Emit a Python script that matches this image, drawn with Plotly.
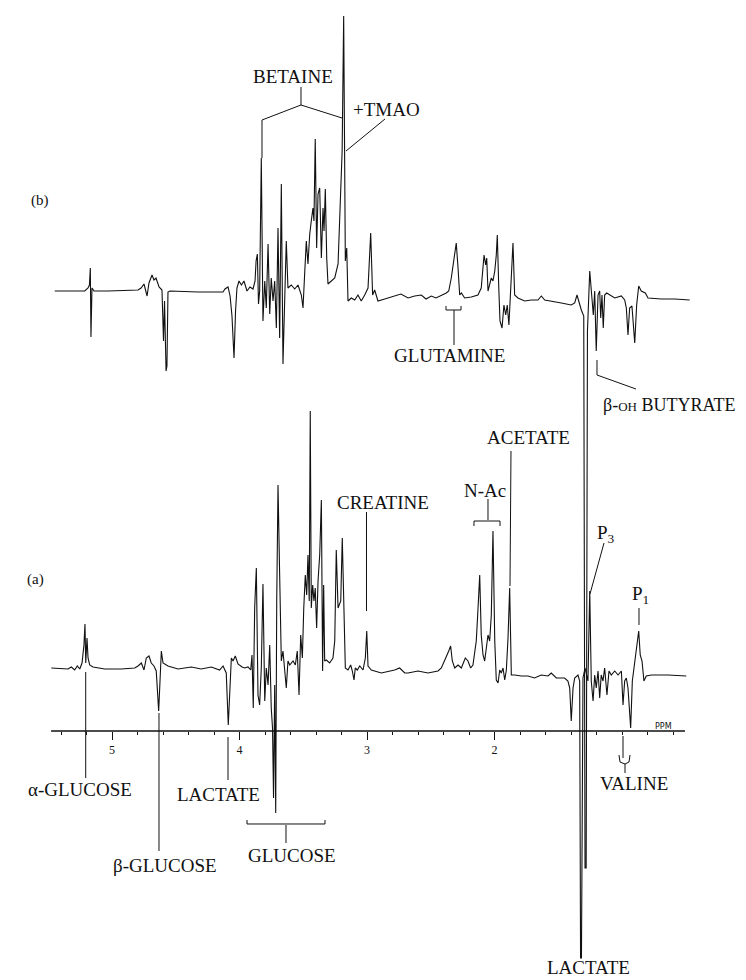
import plotly.graph_objects as go

# ---------------- data (chemical shift in ppm, intensity in arbitrary units) -------------
ppm_b = [5.449, 5.214, 5.188, 5.177, 5.170, 5.165, 5.157, 5.141, 5.031, 4.796,
         4.772, 4.749, 4.725, 4.710, 4.686, 4.671, 4.655, 4.631, 4.608, 4.596,
         4.588, 4.576, 4.569, 4.561, 4.545, 4.326, 4.129, 4.114, 4.090, 4.074,
         4.059, 4.043, 4.031, 4.020, 4.004, 3.985, 3.965, 3.941, 3.918, 3.894,
         3.878, 3.870, 3.860, 3.851, 3.842, 3.829, 3.816, 3.802, 3.790, 3.776,
         3.763, 3.751, 3.737, 3.724, 3.711, 3.698, 3.685, 3.672, 3.659, 3.646,
         3.633, 3.620, 3.594, 3.567, 3.541, 3.515, 3.502, 3.489, 3.476, 3.463,
         3.449, 3.437, 3.424, 3.416, 3.406, 3.395, 3.384, 3.371, 3.358, 3.345,
         3.337, 3.327, 3.316, 3.306, 3.280, 3.253, 3.227, 3.206, 3.195, 3.183,
         3.170, 3.159, 3.149, 3.123, 3.096, 3.071, 3.045, 3.018, 2.992, 2.971,
         2.956, 2.940, 2.914, 2.861, 2.788, 2.734, 2.678, 2.626, 2.574, 2.537,
         2.496, 2.459, 2.378, 2.359, 2.339, 2.318, 2.300, 2.286, 2.273, 2.260,
         2.234, 2.182, 2.130, 2.104, 2.082, 2.069, 2.061, 2.051, 2.038, 2.025,
         2.012, 1.998, 1.986, 1.978, 1.967, 1.957, 1.941, 1.926, 1.912, 1.900,
         1.887, 1.868, 1.855, 1.842, 1.816, 1.763, 1.711, 1.659, 1.633, 1.606,
         1.555, 1.476, 1.398, 1.371, 1.353, 1.332, 1.319, 1.300, 1.290, 1.281,
         1.271, 1.253, 1.241, 1.225, 1.214, 1.202, 1.188, 1.175, 1.167, 1.157,
         1.147, 1.136, 1.120, 1.096, 1.057, 1.005, 0.979, 0.966, 0.953, 0.940,
         0.922, 0.900, 0.885, 0.869, 0.849, 0.817, 0.796, 0.692, 0.587, 0.469]
int_b = [0, 0, 3, 6, 23, -46, 3, 0, 0, 1,
         3, 7, -5, 8, 16, 11, 13, 4, 1, -50,
         -10, -80, -75, -1, 0, -1, -1, 2, 4, -5,
         -25, -67, -20, 3, 10, 6, 10, 0, 4, 2,
         10, 30, 37, -13, 0, 133, -30, 10, -17, 47,
         -23, 13, -10, 10, -37, 63, -47, 107, -73, 0,
         50, 3, 6, 2, 6, -4, -17, 17, 50, 27,
         57, 70, 83, 70, 152, 43, 97, 103, 33, 83,
         60, 102, 33, 7, 10, 13, 27, 100, 140, 275,
         30, 43, -10, -7, -9, -4, -10, -4, 3, 58,
         -4, 1, -10, -8, -5, -3, -7, -5, -4, -8,
         -5, -7, -2, 0, 13, 30, 48, 23, -4, -2,
         -7, -6, -4, 3, 36, 26, 33, 0, 6, 13,
         10, 20, 36, 56, 5, -30, -37, -14, -24, -14,
         -34, 13, 48, -4, -7, -10, -9, -9, -5, -9,
         -10, -12, -14, -12, -4, -14, -19, -25, -577, -577,
         -40, 20, 3, -24, 0, -60, -4, 0, -27, -4,
         -37, -4, -2, -4, -7, -5, -9, -17, -44, -17,
         -15, -52, -14, 5, 0, -2, -7, -8, -8, -9]

ppm_a = [5.476, 5.345, 5.319, 5.293, 5.272, 5.253, 5.235, 5.220, 5.212, 5.206,
         5.196, 5.188, 5.175, 5.149, 5.057, 4.927, 4.822, 4.796, 4.770, 4.749,
         4.731, 4.710, 4.692, 4.671, 4.653, 4.634, 4.613, 4.600, 4.561, 4.482,
         4.378, 4.300, 4.221, 4.156, 4.129, 4.104, 4.088, 4.077, 4.064, 4.051,
         4.033, 4.012, 3.980, 3.959, 3.933, 3.912, 3.902, 3.892, 3.881, 3.868,
         3.855, 3.842, 3.829, 3.816, 3.802, 3.790, 3.776, 3.763, 3.751, 3.741,
         3.733, 3.724, 3.716, 3.708, 3.698, 3.685, 3.672, 3.659, 3.646, 3.633,
         3.620, 3.606, 3.580, 3.562, 3.547, 3.533, 3.520, 3.507, 3.496, 3.484,
         3.473, 3.463, 3.453, 3.445, 3.437, 3.426, 3.416, 3.406, 3.395, 3.384,
         3.371, 3.358, 3.348, 3.340, 3.332, 3.319, 3.293, 3.267, 3.253, 3.241,
         3.227, 3.206, 3.194, 3.183, 3.170, 3.149, 3.128, 3.115, 3.102, 3.092,
         3.076, 3.057, 3.031, 3.013, 3.002, 2.992, 2.966, 2.888, 2.783, 2.744,
         2.704, 2.678, 2.600, 2.522, 2.443, 2.417, 2.391, 2.359, 2.344, 2.331,
         2.312, 2.286, 2.260, 2.229, 2.208, 2.187, 2.169, 2.156, 2.143, 2.129,
         2.116, 2.104, 2.090, 2.077, 2.064, 2.051, 2.038, 2.025, 2.012, 1.998,
         1.986, 1.972, 1.959, 1.947, 1.933, 1.920, 1.907, 1.894, 1.881, 1.868,
         1.842, 1.790, 1.737, 1.686, 1.633, 1.580, 1.555, 1.515, 1.450, 1.424,
         1.410, 1.398, 1.384, 1.371, 1.345, 1.332, 1.325, 1.318, 1.306, 1.290,
         1.267, 1.253, 1.241, 1.227, 1.214, 1.202, 1.188, 1.175, 1.163, 1.149,
         1.136, 1.118, 1.102, 1.084, 1.057, 1.031, 1.005, 0.992, 0.979, 0.966,
         0.953, 0.932, 0.919, 0.900, 0.885, 0.869, 0.857, 0.843, 0.828, 0.810,
         0.770, 0.639, 0.496]
int_a = [0, -1, 1, -2, 2, -1, 5, 23, 44, 5,
         30, 10, 3, 1, -1, -1, 0, 2, 5, -2,
         10, 12, 5, 2, -3, -43, 17, 5, 2, -1,
         1, -1, 1, -2, 2, -5, -57, -20, 10, 7,
         12, 4, 1, 0, 1, -2, 13, -40, 60, 100,
         -27, -37, 0, 84, -33, 0, -17, 23, -40, -60,
         -130, -17, -145, 67, 183, 93, 7, 17, 0, -20,
         7, 3, 7, 3, 17, -27, 33, 10, 60, 93,
         73, 113, 67, 257, 60, 83, 67, 80, 40, 87,
         113, 168, -3, 83, 7, 8, 5, 10, 27, 118,
         60, 67, 130, 67, 0, -2, 3, -3, -12, 0,
         -2, 2, -2, 10, 37, 2, -2, -5, -2, 0,
         -5, -5, -3, -5, -3, 0, 7, 17, 22, 7,
         0, 3, 0, 10, 7, 0, 3, 13, 27, 60,
         93, 33, 13, 7, 23, 33, 27, 53, 137, 27,
         -12, -15, -2, -5, 0, -12, -2, 30, 80, -7,
         -7, -8, -8, -10, -7, -8, -5, -10, -10, -13,
         -20, -53, -20, -10, -7, -13, -290, -290, -10, 0,
         -13, 77, -13, -33, -7, -20, -3, -30, -7, -13,
         0, -27, -3, -7, -3, -7, -3, -37, -13, -10,
         -20, -60, -13, 7, 17, 37, 13, 7, -13, -8,
         -7, -7, -8]

major_ticks = [5, 4, 3, 2]
major_labels = ["5", "4", "3", "2"]
minor_ticks = [5.4, 5.2, 4.8, 4.6, 4.4, 4.2, 3.8, 3.6, 3.4, 3.2, 2.8, 2.6, 2.4, 2.2,
               1.8, 1.6, 1.4, 1.2, 1.0, 0.8, 0.6]
axis_ppm = [5.478, 0.506]

# ---------------- layout helpers ----------------
W, H = 746, 980
X_RANGE = [5.8157, -0.0353]
Y_RANGE = [-257, 723]
OFFSET_A = 63     # baseline of spectrum (a) above the ppm axis
OFFSET_B = 440    # baseline of spectrum (b) above the ppm axis


def fx(p):
    return p / W


def fy(p):
    return 1 - p / H


LINE = dict(color="#111111", width=1.1)

fig = go.Figure()
fig.add_trace(go.Scatter(x=ppm_b, y=[v + OFFSET_B for v in int_b], mode="lines",
                         line=LINE, hoverinfo="skip", cliponaxis=False))
fig.add_trace(go.Scatter(x=ppm_a, y=[v + OFFSET_A for v in int_a], mode="lines",
                         line=LINE, hoverinfo="skip", cliponaxis=False))

shapes = []


def seg(points, width=1.0):
    d = "M" + " L".join(f"{fx(x):.5f},{fy(y):.5f}" for x, y in points)
    shapes.append(dict(type="path", path=d, xref="paper", yref="paper",
                       line=dict(color="#111111", width=width)))


# ppm axis line
shapes.append(dict(type="line", xref="x", yref="y", x0=axis_ppm[0], x1=axis_ppm[1], y0=0, y1=0,
                   line=dict(color="#111111", width=1.4)))

# BETAINE bracket and TMAO leader
seg([(254, 150), (254, 112), (293, 97), (334, 110)])
seg([(293, 97), (293, 79)])
seg([(338, 143), (377, 111)])
# GLUTAMINE bracket
seg([(438, 298), (438, 302), (453, 302), (453, 298)])
seg([(446, 302), (446, 337)])
# beta-OH butyrate leader
seg([(589, 352), (589, 367), (628, 381)])
# ACETATE leader
seg([(503, 443), (502, 578)])
# CREATINE leader
seg([(358.5, 504), (358.5, 603)])
# N-Ac bracket
seg([(480, 491), (480, 512)])
seg([(466, 518), (466, 513), (492, 513), (492, 518)])
# P3 / P1 leaders
seg([(596, 535), (582, 586)])
seg([(631, 600), (631, 617)])
# lower labels leaders
seg([(77.7, 664), (77.7, 770)])
seg([(220, 729), (220, 772)])
seg([(151, 705), (151, 843)])
# GLUCOSE bracket
seg([(239, 812), (239, 816), (317, 816), (317, 812)])
seg([(278, 817), (278, 835)])
# VALINE arrow
seg([(615, 728), (615, 750)])
seg([(611, 747), (612, 754), (617, 756), (621, 754), (622, 747)])
seg([(617, 756), (617, 765)])

SERIF = "Liberation Serif"
annos = []


def label(text, x, y, size=19, family=SERIF):
    annos.append(dict(text=text, x=fx(x), y=fy(y), xref="paper", yref="paper",
                      showarrow=False, xanchor="center", yanchor="middle",
                      font=dict(family=family, size=size, color="#111111")))


label("(b)", 32, 192, 15)
label("(a)", 27, 571, 15)
label("BETAINE", 285, 69)
label("+TMAO", 378, 101)
label("GLUTAMINE", 442, 347)
label("β-<span style='font-size:13px'>OH</span> BUTYRATE", 661, 397, 18)
label("ACETATE", 520, 430)
label("CREATINE", 375, 495)
label("N-Ac", 477, 482)
label("P<sub>3</sub>", 598, 526)
label("P<sub>1</sub>", 632, 587)
label("α-GLUCOSE", 72, 781)
label("LACTATE", 210, 786)
label("β-GLUCOSE", 157, 857)
label("GLUCOSE", 284, 847)
label("VALINE", 626, 775)
label("LACTATE", 580, 959)
label("PPM", 655, 718, 8, "DejaVu Sans")

fig.update_layout(
    width=W, height=H, margin=dict(l=0, r=0, t=0, b=0),
    paper_bgcolor="white", plot_bgcolor="white", showlegend=False,
    shapes=shapes, annotations=annos,
    xaxis=dict(range=X_RANGE, domain=[0, 1], anchor="free", position=-Y_RANGE[0] / H,
               showline=False, showgrid=False, zeroline=False,
               ticks="outside", ticklen=8, tickwidth=1, tickcolor="#111111",
               tickmode="array", tickvals=major_ticks, ticktext=major_labels,
               tickfont=dict(family=SERIF, size=12, color="#111111"),
               minor=dict(tickmode="array", tickvals=minor_ticks, ticks="outside",
                          ticklen=3, tickwidth=1, tickcolor="#111111", showgrid=False)),
    yaxis=dict(range=Y_RANGE, visible=False, showgrid=False, zeroline=False),
)

fig.write_html("out.html")
